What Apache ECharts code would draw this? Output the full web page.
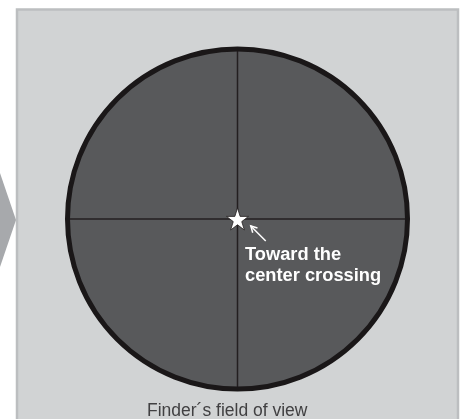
<!DOCTYPE html>
<html>
<head>
<meta charset="utf-8">
<script src="https://cdn.jsdelivr.net/npm/echarts@6/dist/echarts.min.js"></script>
<style>html,body{margin:0;padding:0;background:#fff;}#c{width:464px;height:419px;}</style>
</head>
<body>
<div id="c"></div>
<script>
// ---- data ----
const fieldCircle = [[0, 0]];                 // field of view centre (unit radius)
const crossHorizontal = [[-1, 0], [1, 0]];
const crossVertical = [[0, -1], [0, 1]];
const starPoint = [[0, 0]];                   // target star at the centre crossing
const arrowFrom = [0.166, -0.129];
const arrowTo = [0.078, -0.041];
const noteLines = ['Toward the', 'center crossing'];
const captionText = 'Finder\u00b4s field of view';

const chart = echarts.init(document.getElementById('c'), null, {renderer: 'canvas'});
const FONT = '"Liberation Sans", Arial, Helvetica, sans-serif';
const starPath = 'path://M50,0 L61.8,35.5 L99,35.5 L69,57.5 L80.5,93 L50,71 L19.5,93 L31,57.5 L1,35.5 L38.2,35.5 Z';

chart.setOption({
  animation: false,
  backgroundColor: '#ffffff',
  grid: {left: 67.5, top: 49, width: 340, height: 340, containLabel: false},
  xAxis: {type: 'value', min: -1, max: 1, show: false},
  yAxis: {type: 'value', min: -1, max: 1, show: false},
  graphic: [
    {type: 'rect', z: -10, shape: {x: 17, y: 9.5, width: 441, height: 430},
     style: {fill: '#d1d3d4', stroke: '#bcbec0', lineWidth: 2.5}},
    {type: 'polygon', z: -10, shape: {points: [[0, 173], [16, 220], [0, 267]]},
     style: {fill: '#a7a9ac'}},
    {type: 'text', z: 100, left: 245, top: 244,
     style: {text: noteLines.join('\n'), fill: '#ffffff', font: 'bold 18.3px ' + FONT, lineHeight: 21}},
    {type: 'text', z: 100, left: 147, top: 402,
     style: {text: captionText, fill: '#414042', font: '17.5px ' + FONT}}
  ],
  series: [
    {
      type: 'custom', z: 1, data: fieldCircle,
      renderItem: function (params, api) {
        const c = api.coord([api.value(0), api.value(1)]);
        const r = api.size([1, 1])[0];
        return {type: 'circle', shape: {cx: c[0], cy: c[1], r: r}, style: {fill: '#58595b'}};
      }
    },
    {type: 'line', z: 2, data: crossHorizontal, symbol: 'none', lineStyle: {color: '#231f20', width: 1.5}},
    {type: 'line', z: 2, data: crossVertical, symbol: 'none', lineStyle: {color: '#231f20', width: 1.5}},
    {
      type: 'custom', z: 3, data: fieldCircle,
      renderItem: function (params, api) {
        const c = api.coord([api.value(0), api.value(1)]);
        const r = api.size([1, 1])[0];
        return {type: 'circle', shape: {cx: c[0], cy: c[1], r: r}, style: {fill: 'none', stroke: '#1a1718', lineWidth: 5}};
      }
    },
    {type: 'scatter', z: 4, data: starPoint, symbol: starPath, symbolSize: [22, 22],
     itemStyle: {color: '#ffffff', borderColor: '#231f20', borderWidth: 0.8, opacity: 1}},
    {
      type: 'custom', z: 5, data: [arrowFrom.concat(arrowTo)],
      renderItem: function (params, api) {
        const a = api.coord([api.value(0), api.value(1)]);
        const b = api.coord([api.value(2), api.value(3)]);
        const ang = Math.atan2(b[1] - a[1], b[0] - a[0]);
        const hl = 7, spread = 0.5;
        const p1 = [b[0] - hl * Math.cos(ang - spread), b[1] - hl * Math.sin(ang - spread)];
        const p2 = [b[0] - hl * Math.cos(ang + spread), b[1] - hl * Math.sin(ang + spread)];
        return {type: 'group', children: [
          {type: 'line', shape: {x1: a[0], y1: a[1], x2: b[0], y2: b[1]}, style: {stroke: '#ffffff', lineWidth: 1.5}},
          {type: 'polyline', shape: {points: [p1, b, p2]}, style: {stroke: '#ffffff', lineWidth: 1.5, fill: 'none'}}
        ]};
      }
    }
  ]
});
</script>
</body>
</html>
